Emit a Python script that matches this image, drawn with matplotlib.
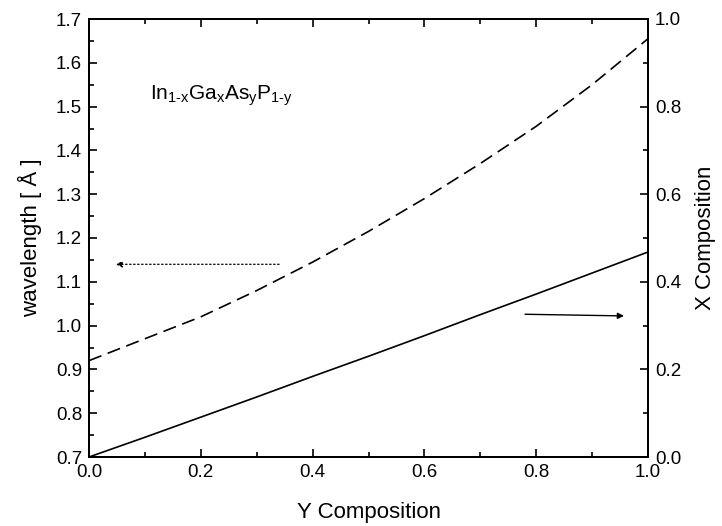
import matplotlib.pyplot as plt
from matplotlib.ticker import MultipleLocator

plt.rcParams['font.family'] = ['Liberation Sans', 'DejaVu Sans']
plt.rcParams['mathtext.fontset'] = 'custom'
plt.rcParams['mathtext.rm'] = 'Liberation Sans'
plt.rcParams['mathtext.it'] = 'Liberation Sans'
plt.rcParams['mathtext.default'] = 'regular'

# values
y_comp = [0.0, 0.1, 0.2, 0.3, 0.4, 0.5, 0.6, 0.7, 0.8, 0.9, 1.0]
wavelength = [0.92, 0.97, 1.02, 1.08, 1.145, 1.215, 1.29, 1.37, 1.455, 1.55, 1.655]
x_comp = [0.0, 0.045, 0.091, 0.137, 0.184, 0.230, 0.277, 0.325, 0.372, 0.420, 0.468]

fig = plt.figure(figsize=(7.22, 5.26), dpi=100)
ax = fig.add_axes([89 / 722, 1 - 457 / 526, (648 - 89) / 722, (457 - 19) / 526])
ax2 = ax.twinx()

ax.plot(y_comp, wavelength, color='black', lw=1.2, linestyle=(0, (8, 4)))
ax2.plot(y_comp, x_comp, color='black', lw=1.2)

ax.set_xlim(0, 1.0)
ax.set_ylim(0.7, 1.7)
ax2.set_ylim(0, 1.0)

ax.xaxis.set_major_locator(MultipleLocator(0.2))
ax.xaxis.set_minor_locator(MultipleLocator(0.1))
ax.yaxis.set_major_locator(MultipleLocator(0.1))
ax.yaxis.set_minor_locator(MultipleLocator(0.05))
ax2.yaxis.set_major_locator(MultipleLocator(0.2))
ax2.yaxis.set_minor_locator(MultipleLocator(0.1))

ax.xaxis.set_major_formatter(lambda v, p: f'{v:.1f}')
ax.yaxis.set_major_formatter(lambda v, p: f'{v:.1f}')
ax2.yaxis.set_major_formatter(lambda v, p: f'{v:.1f}')

ax.tick_params(which='both', direction='in', top=True, right=False, labelsize=13.5, width=1.2)
ax.tick_params(which='major', length=6, pad=5)
ax.tick_params(which='minor', length=3.5)
ax2.tick_params(which='both', direction='in', labelsize=13.5, width=1.2)
ax2.tick_params(which='major', length=6, pad=5)
ax2.tick_params(which='minor', length=3.5)
for a in (ax, ax2):
    for s in a.spines.values():
        s.set_linewidth(1.4)

ax.set_xlabel('Y Composition', fontsize=16, labelpad=15)
ax.set_ylabel('wavelength [ Å ]', fontsize=16, labelpad=10)
ax2.set_ylabel('X Composition', fontsize=16, labelpad=10)

ax.text(0.11, 1.515, r'$In_{\text{1-x}}Ga_{x}As_{y}P_{\text{1-y}}$', fontsize=15)

ax.annotate('', xy=(0.043, 1.14), xytext=(0.345, 1.14),
            arrowprops=dict(arrowstyle='-|>', color='black', lw=0.9,
                            linestyle=(0, (1.2, 2.0)), mutation_scale=9))
ax2.annotate('', xy=(0.962, 0.322), xytext=(0.775, 0.326),
             arrowprops=dict(arrowstyle='-|>', color='black', lw=1.0,
                             mutation_scale=9))

fig.savefig('out.png', dpi=100)
